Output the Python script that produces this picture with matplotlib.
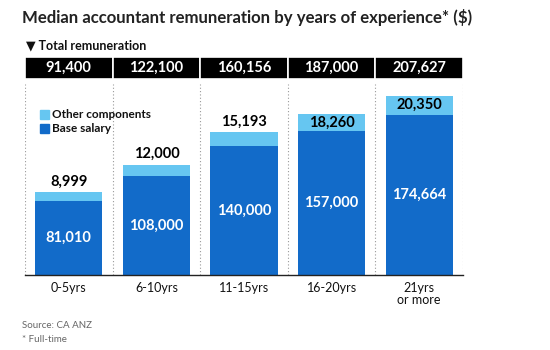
import matplotlib
matplotlib.use("Agg")
import matplotlib.pyplot as plt

plt.rcParams['font.family'] = ['Lato', 'DejaVu Sans']

categories = ["0-5yrs", "6-10yrs", "11-15yrs", "16-20yrs", "21yrs\nor more"]
base_salary = [81010, 108000, 140000, 157000, 174664]
other_components = [8999, 12000, 15193, 18260, 20350]
total_remuneration = ["91,400", "122,100", "160,156", "187,000", "207,627"]

BASE_C = "#126BC9"
OTHER_C = "#66C6F1"

W, H = 550, 350
fig = plt.figure(figsize=(W / 100, H / 100), dpi=100)

def fx(px):
    return px / W

def fy(py):
    return 1 - py / H

left, right, top, bottom = 25, 463, 84, 275
ax = fig.add_axes([fx(left), fy(bottom), fx(right - left), (bottom - top) / H])
x = list(range(len(categories)))
ax.bar(x, base_salary, width=0.765, color=BASE_C, edgecolor="none", zorder=2)
ax.bar(x, other_components, bottom=base_salary, width=0.765, color=OTHER_C,
       edgecolor="none", zorder=2)
ax.set_xlim(-0.5, len(categories) - 0.5)
ax.set_ylim(0, 208000)
for b in [i - 0.5 for i in range(len(categories) + 1)]:
    ax.axvline(b, color="#999999", linestyle=(0, (1, 2)), linewidth=0.8, zorder=1)
for s in ["top", "left", "right"]:
    ax.spines[s].set_visible(False)
ax.spines["bottom"].set_color("#222222")
ax.spines["bottom"].set_linewidth(1)
ax.set_yticks([])
ax.set_xticks(x)
ax.set_xticklabels(categories, fontsize=9, color="#111111", linespacing=1.0)
ax.tick_params(axis="x", length=0, pad=5)

for i, (b, o) in enumerate(zip(base_salary, other_components)):
    ax.text(i, b / 2, f"{b:,}", ha="center", va="center", color="white",
            fontsize=10.5, fontweight="bold", zorder=3)
    if i < 3:
        ax.text(i, b + o + 4000, f"{o:,}", ha="center", va="bottom",
                color="black", fontsize=10.5, fontweight="bold", zorder=3)
    else:
        ax.text(i, b + o / 2, f"{o:,}", ha="center", va="center",
                color="black", fontsize=10.5, fontweight="bold", zorder=3)

# legend
fig.patches.append(plt.Rectangle((fx(40), fy(119)), 9 / W, 9 / H,
                                 transform=fig.transFigure, color=OTHER_C))
fig.patches.append(plt.Rectangle((fx(40), fy(133)), 9 / W, 9 / H,
                                 transform=fig.transFigure, color=BASE_C))
fig.text(fx(52), fy(114.5), "Other components", fontsize=8.5, fontweight="bold",
         va="center", ha="left", color="#111111")
fig.text(fx(52), fy(128.5), "Base salary", fontsize=8.5, fontweight="bold",
         va="center", ha="left", color="#111111")

# header boxes
hax = fig.add_axes([fx(left), fy(79), fx(right - left), 22 / H])
hax.bar(x, [1] * len(x), width=1.0, color="black", edgecolor="white", linewidth=1.2)
hax.set_xlim(-0.5, len(categories) - 0.5)
hax.set_ylim(0, 1)
hax.axis("off")
for i, t in enumerate(total_remuneration):
    hax.text(i, 0.5, t, ha="center", va="center", color="white", fontsize=10.5,
             fontweight="bold")

fig.text(fx(22), fy(18), "Median accountant remuneration by years of experience* ($)",
         fontsize=12.1, fontweight="bold", color="#222222", va="center", ha="left")
fig.text(fx(26), fy(45), "\u25bc Total remuneration", fontsize=9, fontweight="bold",
         color="#111111", va="center", ha="left")
fig.text(fx(22), fy(325), "Source: CA ANZ", fontsize=7, color="#666666",
         va="center", ha="left")
fig.text(fx(22), fy(339), "* Full-time", fontsize=7, color="#666666",
         va="center", ha="left")

fig.savefig("out.png", dpi=100)
